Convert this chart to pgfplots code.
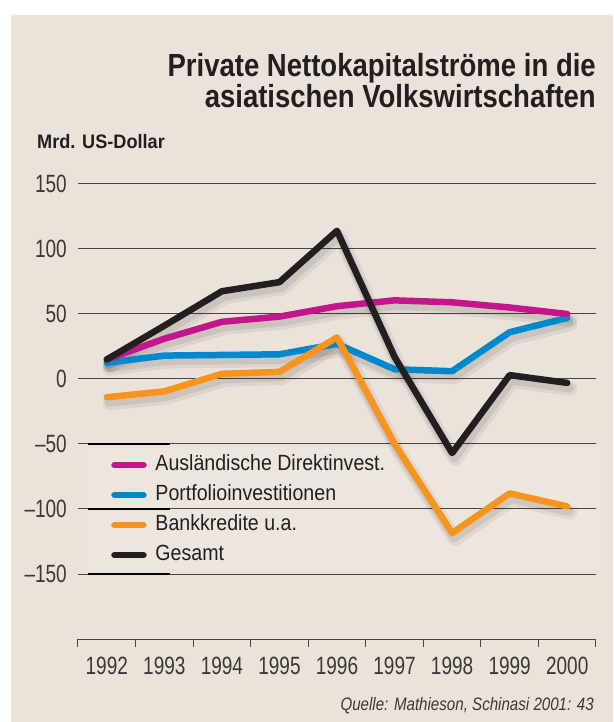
\documentclass[border=0pt]{standalone}
\usepackage{fontspec}
\setmainfont{Liberation Sans}
\newfontfamily\tickfont{Liberation Sans}[FakeStretch=0.76]
\newfontfamily\legfont{Liberation Sans}[FakeStretch=0.89]
\newfontfamily\titlefont{Liberation Sans}[FakeStretch=0.86]
\newfontfamily\mrdfont{Liberation Sans}[FakeStretch=0.93]
\newfontfamily\quellefont{Liberation Sans}[FakeStretch=0.84]
\usepackage{pgfplots}
\pgfplotsset{compat=1.18}
\definecolor{bgc}{HTML}{EBE3DA}
\definecolor{txtc}{HTML}{231F20}
\definecolor{tickc}{HTML}{3A3838}
\definecolor{gridc}{HTML}{4A4646}
\definecolor{cmag}{HTML}{C4168C}
\definecolor{cblue}{HTML}{0088CE}
\definecolor{corange}{HTML}{F7941E}
\definecolor{cblack}{HTML}{231F20}
\begin{document}
\begin{tikzpicture}[x=1pt,y=1pt]
\begin{scope}[shift={(-78pt,-83pt)}]
\fill[white] (0,0) rectangle (613,722);
\fill[bgc] (11,0) rectangle (613,707);
\node[anchor=base east, inner sep=0pt, text=txtc] at (596,645) {\titlefont\bfseries\fontsize{32}{36}\selectfont Private Nettokapitalströme in die};
\node[anchor=base east, inner sep=0pt, text=txtc] at (596,614) {\titlefont\bfseries\fontsize{32}{36}\selectfont asiatischen Volkswirtschaften};
\node[anchor=base west, inner sep=0pt, text=txtc] at (37,573) {\mrdfont\bfseries\fontsize{19.5}{22}\selectfont Mrd. US-Dollar};
\node[anchor=base east, inner sep=0pt, text=tickc] at (594,12) {\quellefont\itshape\fontsize{18}{20}\selectfont Quelle: Mathieson, Schinasi 2001: 43};
\fill[white, opacity=0.12] (88,152) rectangle (600,275);
\end{scope}
\begin{axis}[
  scale only axis,
  width=518pt, height=455pt,
  xmin=-0.5, xmax=8.5, ymin=-200, ymax=150,
  clip=false,
  axis x line*=bottom, axis y line*=left,
  axis line style={-},
  x axis line style={draw=gridc, line width=1pt},
  y axis line style={draw=none},
  xtick={0,...,8},
  xticklabels={1992,1993,1994,1995,1996,1997,1998,1999,2000},
  minor xtick={-0.5,0.5,...,8.5},
  major tick length=0pt,
  minor tick length=8pt,
  tick align=outside,
  major x tick style={draw=none},
  minor x tick style={draw=gridc, line width=1pt},
  ytick={-150,-100,...,150},
  yticklabels={\textendash150,\textendash100,\textendash50,0,50,100,150},
  major y tick style={draw=none},
  ymajorgrids,
  grid style={draw=gridc, line width=1pt},
  xticklabel style={font=\tickfont\fontsize{25}{25}\selectfont, text=tickc, anchor=north, inner sep=0pt, yshift=-18pt},
  yticklabel style={font=\tickfont\fontsize{25}{25}\selectfont, text=tickc, anchor=east, inner sep=0pt, xshift=-11pt},
  legend style={at={(0.058,0.41)}, anchor=north west, draw=none, fill=none,
    font=\legfont\fontsize{22}{22}\selectfont, text=txtc,
    nodes={inner sep=0pt, text height=16pt, text depth=5pt},
    row sep=9pt, column sep=0pt},
  legend cell align=left,
  legend image code/.code={\draw[#1, line width=6.5pt, line cap=round] (0pt,0pt) -- (29pt,0pt); \path[draw=none] (0pt,0pt) -- (41pt,0pt);},
]
% thick grid segments
\addplot[forget plot, draw=black, line width=2pt] coordinates {(-0.326,-50) (1.098,-50)};
\addplot[forget plot, draw=black, line width=2pt] coordinates {(-0.326,-100) (1.098,-100)};
\addplot[forget plot, draw=black, line width=2pt] coordinates {(-0.326,-150) (1.098,-150)};
% shadows
\foreach \dat in {
 {(0,15) (1,31) (2,44) (3,48) (4,56) (5,60.5) (6,59) (7,55) (8,50)},
 {(0,12.5) (1,18) (2,18.5) (3,19) (4,27) (5,7.5) (6,6) (7,36) (8,47)},
 {(0,-14) (1,-9.5) (2,4) (3,5.5) (4,32) (5,-50) (6,-118.5) (7,-88) (8,-98)},
 {(0,15) (1,41) (2,67.5) (3,74.5) (4,114) (5,17) (6,-57) (7,3) (8,-3)}} {
  \addplot[forget plot, draw=black, opacity=0.06, line width=14pt, line join=round, line cap=round, xshift=3pt, yshift=-6pt] coordinates \dat;
  \addplot[forget plot, draw=black, opacity=0.08, line width=9pt, line join=round, line cap=round, xshift=2pt, yshift=-5pt] coordinates \dat;
}
\addplot[draw=cblue, line width=6.5pt, line join=round, line cap=round, forget plot] coordinates {(0,12.5) (1,18) (2,18.5) (3,19) (4,27) (5,7.5) (6,6) (7,36) (8,47)};
\addplot[draw=cmag, line width=6.5pt, line join=round, line cap=round] coordinates {(0,15) (1,31) (2,44) (3,48) (4,56) (5,60.5) (6,59) (7,55) (8,50)};
\addlegendentry{Ausländische Direktinvest.}
\addlegendimage{draw=cblue}
\addlegendentry{Portfolioinvestitionen}
\addplot[draw=corange, line width=6.5pt, line join=round, line cap=round] coordinates {(0,-14) (1,-9.5) (2,4) (3,5.5) (4,32) (5,-50) (6,-118.5) (7,-88) (8,-98)};
\addlegendentry{Bankkredite u.a.}
\addplot[draw=cblack, line width=6.5pt, line join=round, line cap=round] coordinates {(0,15) (1,41) (2,67.5) (3,74.5) (4,114) (5,17) (6,-57) (7,3) (8,-3)};
\addlegendentry{Gesamt}
\end{axis}
\end{tikzpicture}
\end{document}
